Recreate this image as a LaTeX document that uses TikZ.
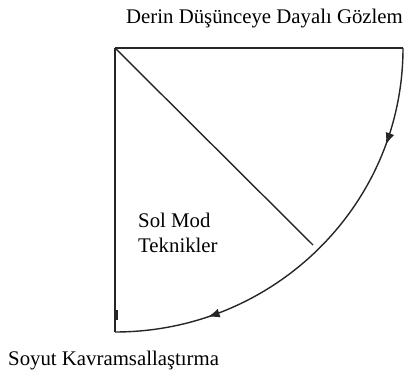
\documentclass[tikz,border=0pt]{standalone}
\usepackage{fontspec}
\setmainfont{Liberation Serif}
\usetikzlibrary{decorations.markings,arrows.meta}
\begin{document}
\begin{tikzpicture}[x=1pt,y=1pt,
  lbl/.style={inner sep=0pt,anchor=base west,font=\fontsize{20.8}{25}\selectfont,text=black},
  edge/.style={line width=1.4pt,draw=black!85},
  flow/.style={edge,postaction={decorate},decoration={markings,
     mark=at position 0.22 with {\arrow{Latex[length=12pt,width=9pt]}},
     mark=at position 0.79 with {\arrow{Latex[length=12pt,width=9pt]}}}}]
\useasboundingbox (0,0) rectangle (404,372);
\coordinate (c) at (115,324);
\coordinate (tr) at (403,324);
\coordinate (bl) at (115,40);
\coordinate (d) at (313,127);
\coordinate (t1) at (116.5,62);
\coordinate (t2) at (116.5,52);
\node[lbl] (top) at (126,348) {Derin Düşünceye Dayalı Gözlem};
\node[lbl] (bot) at (8,6) {Soyut Kavramsallaştırma};
\node[lbl] (sol) at (138,144) {Sol Mod};
\node[lbl] (tek) at (138,119) {Teknikler};
\draw[edge] (c) -- (tr);
\draw[edge] (c) -- (bl);
\draw[edge] (c) -- (d);
\draw[flow] (tr) arc[start angle=0,end angle=-90,x radius=288,y radius=284];
\draw[line width=3pt,draw=black!85] (t1) -- (t2);
\end{tikzpicture}
\end{document}
